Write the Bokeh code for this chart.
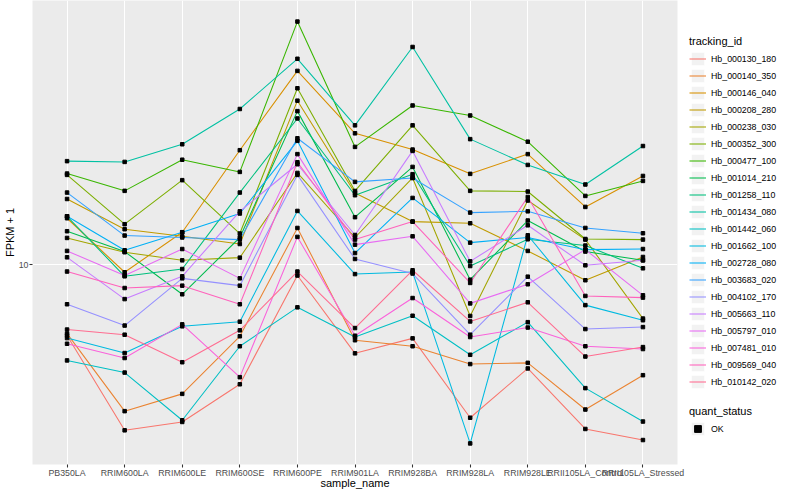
from bokeh.plotting import figure
from bokeh.layouts import row
from bokeh.models import (FactorRange, Range1d, Legend, LegendItem, FixedTicker,
                          ColumnDataSource)
from bokeh.embed import file_html
from bokeh.resources import INLINE
import math

samples = ["PB350LA", "RRIM600LA", "RRIM600LE", "RRIM600SE", "RRIM600PE",
           "RRIM901LA", "RRIM928BA", "RRIM928LA", "RRIM928LE",
           "RRII105LA_Control", "RRII105LA_Stressed"]

tracking_ids = ["Hb_000130_180", "Hb_000140_350", "Hb_000146_040", "Hb_000208_280",
                "Hb_000238_030", "Hb_000352_300", "Hb_000477_100", "Hb_001014_210",
                "Hb_001258_110", "Hb_001434_080", "Hb_001442_060", "Hb_001662_100",
                "Hb_002728_080", "Hb_003683_020", "Hb_004102_170", "Hb_005663_110",
                "Hb_005797_010", "Hb_007481_010", "Hb_009569_040", "Hb_010142_020"]

colors = ["#F8766D", "#EA8331", "#D89000", "#C09B00", "#A3A500", "#7CAE00", "#39B600",
          "#00BB4E", "#00BF7D", "#00C1A3", "#00BFC4", "#00BAE0", "#00B0F6", "#35A2FF",
          "#9590FF", "#C77CFF", "#E76BF3", "#FA62DB", "#FF62BC", "#FF6C90"]

# FPKM + 1 per sample (order of `samples`)
hb_000130_180 = [6.66, 3.86, 4.05, 5.03, 9.40, 6.01, 6.55, 4.15, 5.51, 3.89, 3.65]
hb_000140_350 = [6.73, 4.31, 4.76, 6.63, 12.36, 6.48, 6.26, 5.65, 5.69, 4.35, 5.30]
hb_000146_040 = [13.07, 9.58, 12.06, 19.33, 30.5, 21.3, 19.4, 16.87, 18.9, 13.95, 16.67]
hb_000208_280 = [14.6, 12.27, 11.78, 11.27, 25.7, 15.12, 12.82, 12.70, 10.83, 9.15, 10.46]
hb_000238_030 = [11.67, 10.75, 10.26, 10.42, 16.96, 11.70, 16.48, 7.45, 14.47, 11.56, 7.34]
hb_000352_300 = [16.77, 12.63, 16.27, 11.97, 27.6, 15.29, 22.3, 15.3, 15.24, 11.60, 11.56]
hb_000477_100 = [16.9, 15.3, 18.3, 17.06, 40.5, 19.7, 25.0, 23.6, 20.3, 14.86, 16.2]
hb_001014_210 = [12.13, 10.79, 8.44, 11.70, 24.2, 13.15, 17.56, 9.18, 12.90, 10.79, 10.26]
hb_001258_110 = [13.22, 9.36, 9.76, 15.15, 23.2, 14.92, 16.84, 9.93, 11.58, 11.17, 9.80]
hb_001434_080 = [18.15, 18.07, 20.0, 24.5, 32.7, 22.3, 35.0, 20.6, 17.76, 15.87, 19.8]
hb_001442_060 = [5.77, 5.38, 4.09, 6.26, 7.83, 6.60, 7.46, 5.96, 7.19, 4.92, 4.06]
hb_001662_100 = [6.56, 6.02, 7.02, 7.21, 13.63, 9.48, 9.59, 3.58, 11.85, 7.93, 7.27]
hb_002728_080 = [13.22, 10.87, 12.06, 13.43, 20.4, 10.70, 14.69, 11.36, 11.70, 10.91, 10.95]
hb_003683_020 = [15.15, 11.83, 11.70, 11.56, 20.7, 16.11, 16.48, 13.50, 13.60, 12.36, 11.99]
hb_004102_170 = [7.97, 7.05, 9.25, 8.87, 16.77, 10.34, 9.51, 6.69, 9.34, 6.91, 6.99]
hb_005663_110 = [10.44, 8.21, 9.36, 13.60, 17.83, 11.87, 19.25, 10.20, 12.55, 9.97, 10.26]
hb_005797_010 = [10.83, 9.40, 10.95, 9.25, 18.9, 11.23, 11.78, 8.01, 8.94, 10.91, 8.39]
hb_007481_010 = [6.35, 5.85, 7.10, 5.24, 11.74, 6.65, 8.26, 6.60, 6.97, 6.26, 6.16]
hb_009569_040 = [9.62, 8.75, 8.87, 7.97, 18.04, 11.56, 12.82, 9.01, 14.77, 8.36, 8.28]
hb_010142_020 = [6.89, 6.69, 5.71, 6.86, 9.62, 6.95, 9.69, 7.22, 8.06, 5.90, 6.23]

series = [hb_000130_180, hb_000140_350, hb_000146_040, hb_000208_280, hb_000238_030,
          hb_000352_300, hb_000477_100, hb_001014_210, hb_001258_110, hb_001434_080,
          hb_001442_060, hb_001662_100, hb_002728_080, hb_003683_020, hb_004102_170,
          hb_005663_110, hb_005797_010, hb_007481_010, hb_009569_040, hb_010142_020]

quant_status = ["OK"]
y_ticks = [10]

FONT = "Liberation Sans"

# ggplot-like 5% expansion on log scale
all_vals = [v for s in series for v in s]
lmin, lmax = math.log10(min(all_vals)), math.log10(max(all_vals))
pad = (lmax - lmin) * 0.05
y_lo, y_hi = 10 ** (lmin - pad), 10 ** (lmax + pad)

p = figure(width=685, height=492,
           x_range=FactorRange(factors=samples, range_padding=0.1,
                               range_padding_units="absolute"),
           y_range=Range1d(y_lo, y_hi), y_axis_type="log",
           output_backend="svg", toolbar_location=None,
           min_border_left=27, min_border_right=8, min_border_top=0,
           min_border_bottom=28)

p.background_fill_color = "#EBEBEB"
p.border_fill_color = "white"
p.outline_line_color = None

ticker = FixedTicker(ticks=y_ticks, minor_ticks=[])
p.yaxis.ticker = ticker
p.ygrid.ticker = ticker
p.yaxis.major_label_overrides = {10: "10"}

for g in (p.xgrid, p.ygrid):
    g.grid_line_color = "white"
    g.grid_line_width = 1.07
    g.minor_grid_line_color = None

for ax in (p.xaxis, p.yaxis):
    ax.axis_line_color = None
    ax.major_tick_line_color = "#333333"
    ax.major_tick_line_width = 1.07
    ax.major_tick_out = 3
    ax.major_tick_in = 0
    ax.minor_tick_line_color = None
    ax.major_label_text_font = FONT
    ax.major_label_text_font_size = "8.8px"
    ax.major_label_text_color = "#4D4D4D"
    ax.axis_label_text_font = FONT
    ax.axis_label_text_font_size = "11px"
    ax.axis_label_text_font_style = "normal"
    ax.axis_label_text_color = "black"

p.xaxis.axis_label = "sample_name"
p.xaxis.major_label_standoff = 0
p.xaxis.axis_label_standoff = -4
p.yaxis.axis_label = "FPKM + 1"
p.yaxis.major_label_standoff = 1
p.yaxis.axis_label_standoff = 0

for vals, col in zip(series, colors):
    src = ColumnDataSource(dict(x=samples, y=vals))
    p.line("x", "y", source=src, line_color=col, line_width=1.07)

px, py = [], []
for vals in series:
    px.extend(samples)
    py.extend(vals)
p.scatter(px, py, marker="square", size=3.5, color="black")

# ---- legend panel (separate canvas to the right of the plot panel) ----
lf = figure(width=107, height=492, x_range=Range1d(0, 1), y_range=Range1d(0, 1),
            output_backend="svg", toolbar_location=None,
            min_border_left=0, min_border_right=0, min_border_top=0,
            min_border_bottom=0)
lf.axis.visible = False
lf.grid.visible = False
lf.outline_line_color = None
lf.background_fill_color = "white"
lf.border_fill_color = "white"

# key background and key glyphs, placed outside the visible range
bg = lf.quad(left=[5], right=[6], top=[6], bottom=[5],
             fill_color="#F2F2F2", line_color="white", line_width=1)
key_lines = [lf.line([5, 6], [5, 5], line_color=col, line_width=1.07)
             for col in colors]
key_pt = lf.scatter([5], [5], marker="square", size=5, color="black")


def style_legend(lg):
    lg.border_line_color = None
    lg.background_fill_alpha = 0
    lg.padding = 0
    lg.margin = 0
    lg.spacing = 0
    lg.glyph_width = 17
    lg.glyph_height = 17
    lg.label_height = 17
    lg.label_standoff = 5
    lg.label_text_font = FONT
    lg.label_text_font_size = "8.8px"
    lg.label_text_color = "black"
    lg.title_text_font = FONT
    lg.title_text_font_size = "11px"
    lg.title_text_font_style = "normal"
    lg.title_text_color = "black"
    lg.title_standoff = 3


items = [LegendItem(label=tid, renderers=[bg, r])
         for tid, r in zip(tracking_ids, key_lines)]
leg1 = Legend(items=items, title="tracking_id", location=(4, 74))
style_legend(leg1)
lf.add_layout(leg1)

leg2 = Legend(items=[LegendItem(label=quant_status[0], renderers=[bg, key_pt])],
              title="quant_status", location=(4, 27))
style_legend(leg2)
lf.add_layout(leg2)

layout = row(p, lf, spacing=0)
open("out.html", "w").write(file_html(layout, INLINE))
